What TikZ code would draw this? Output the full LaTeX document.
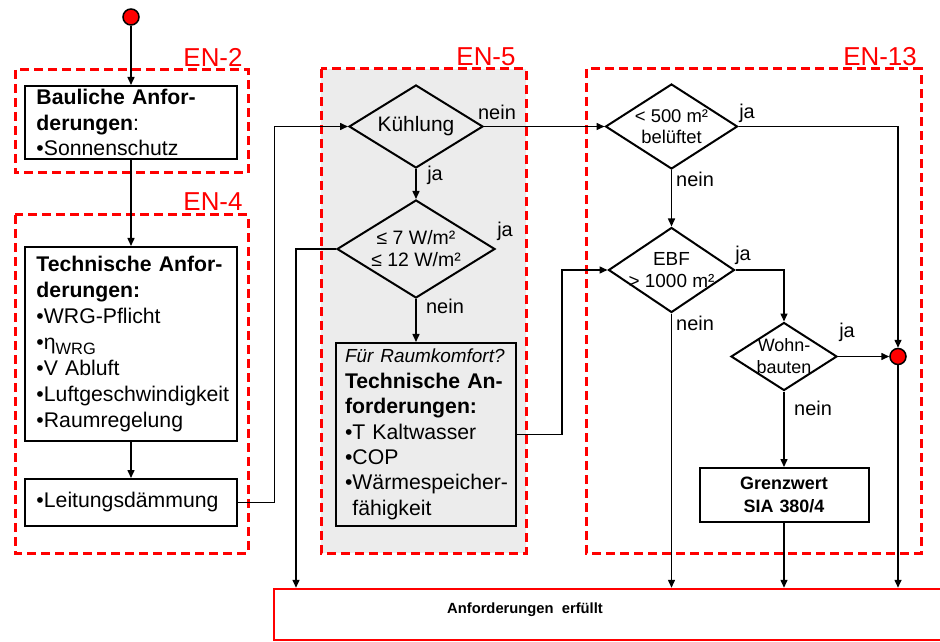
\documentclass[tikz,border=0pt]{standalone}
\usepackage{fontspec}
\setmainfont{Liberation Sans}
\usetikzlibrary{arrows.meta,shapes.geometric}
\definecolor{enred}{RGB}{255,0,0}
\definecolor{bggray}{RGB}{236,236,236}
\hyphenpenalty=10000
\exhyphenpenalty=10000
\begin{document}
\begin{tikzpicture}[x=1bp,y=-1bp,
  conn/.style={line width=1.5bp, draw=black},
  arr/.style={conn,-{Triangle[length=8bp,width=7bp]}},
  enbox/.style={draw=enred, line width=3bp, dash pattern=on 9bp off 5bp},
  enlab/.style={text=enred, font=\fontsize{26}{26}\selectfont, inner sep=0},
  box/.style={draw, line width=2bp, align=left, inner xsep=11bp, inner ysep=0,
    font=\fontsize{21.3}{26}\selectfont},
  dia/.style={diamond, draw, line width=2bp, inner sep=0, aspect=1.6},
  dtext/.style={align=center, inner sep=0, font=\fontsize{19}{21.5}\selectfont},
  yn/.style={inner sep=0, font=\fontsize{20}{20}\selectfont},
  dotc/.style={circle, draw=black, line width=1.5bp, fill=enred, minimum size=16bp, inner sep=0},
]
\useasboundingbox (0,0) rectangle (940,642);
\clip (0,0) rectangle (940,642);
\fill[white] (0,0) rectangle (940,642);

% group frames
\fill[bggray] (321,69) rectangle (526,553);
\draw[enbox] (15,70) rectangle (248,173);
\draw[enbox] (15,215) rectangle (248,553);
\draw[enbox] (321,69) rectangle (526,553);
\draw[enbox] (586,69) rectangle (921,553);
\node[enlab] (en2) at (213,57) {EN-2};
\node[enlab] (en4) at (213,202) {EN-4};
\node[enlab] (en5) at (486,57) {EN-5};
\node[enlab] (en13) at (880,57) {EN-13};

% nodes
\node[dotc] (start) at (131,17) {};
\node[box, text width=189bp, minimum height=73bp] (bau) at (131,122.5)
  {\textbf{Bauliche Anfor-}\\\textbf{derungen}:\\•Sonnenschutz};
\node[box, text width=189bp, minimum height=194bp] (tech) at (131,344)
  {\textbf{Technische Anfor-}\\\textbf{derungen:}\\•WRG-Pflicht\\•η\raisebox{-5bp}{\fontsize{16.5}{16.5}\selectfont WRG}\\•V Abluft\\•Luftgeschwindigkeit\\•Raumregelung};
\node[box, text width=189bp, minimum height=47bp] (leit) at (131,502.5) {•Leitungsdämmung};

\node[dia, minimum width=134bp, minimum height=83bp] (kuehl) at (416,126.5) {};
\node[dtext, font=\fontsize{21}{21}\selectfont] (kuehl-t) at (kuehl) {Kühlung};
\node[dia, minimum width=158bp, minimum height=98bp] (w7) at (416,249) {};
\node[dtext, font=\fontsize{19.5}{22}\selectfont] (w7-t) at (w7) {≤ 7 W/m²\\≤ 12 W/m²};
\node[box, fill=bggray, text width=162bp, inner xsep=9bp, minimum height=183bp,
  font=\fontsize{21.3}{25.5}\selectfont] (fuer) at (426,434.5)
  {{\fontsize{19}{25.5}\selectfont\itshape Für Raumkomfort?}\\\textbf{Technische An-}\\\textbf{forderungen:}\\•T Kaltwasser\\•COP\\•Wärmespeicher-\\\hphantom{•}fähigkeit};

\node[dia, minimum width=132bp, minimum height=85bp] (lt500) at (671.5,126.5) {};
\node[dtext, font=\fontsize{18.5}{21.5}\selectfont] (lt500-t) at (lt500) {< 500 m²\\belüftet};
\node[dia, minimum width=126bp, minimum height=85bp] (ebf) at (671.5,270) {};
\node[dtext] (ebf-t) at (ebf) {EBF\\> 1000 m²};
\node[dia, minimum width=106bp, minimum height=68bp] (wohn) at (784,356.5) {};
\node[dtext, font=\fontsize{18}{22}\selectfont] (wohn-t) at (wohn) {Wohn-\\bauten};
\node[dotc] (merge) at (898,356.5) {};
\node[box, align=center, inner xsep=0, text width=169bp, minimum height=54bp,
  font=\fontsize{18}{23}\selectfont\bfseries] (grenz) at (784,495) {Grenzwert\\SIA 380/4};

\node[draw=enred, line width=2.5bp, minimum width=760bp, minimum height=51bp, inner sep=0] (ziel) at (654,614.5) {};
\node[inner sep=0, font=\fontsize{14.8}{14.8}\selectfont\bfseries] (ziel-t) at (525,610) {Anforderungen~~erfüllt};

% labels
\node[yn] (l1) at (497,112) {nein};
\node[yn] (l2) at (435,175) {ja};
\node[yn] (l3) at (505,231) {ja};
\node[yn] (l4) at (445,306) {nein};
\node[yn] (l5) at (747,113) {ja};
\node[yn] (l6) at (695,179) {nein};
\node[yn] (l7) at (743,255) {ja};
\node[yn] (l8) at (695,323) {nein};
\node[yn] (l9) at (847,332) {ja};
\node[yn] (l10) at (813,408) {nein};

% connectors
\draw[arr] (start.south) -- (bau.north);
\draw[arr] (bau.south) -- (tech.north);
\draw[arr] (tech.south) -- (leit.north);
\draw[arr] (leit.east) -- ++(37,0) |- (kuehl.west);
\draw[arr] (kuehl.east) -- (lt500.west);
\draw[arr] (kuehl.south) -- (w7.north);
\draw[arr] (w7.west) -- ++(-40,0) coordinate (wl) -- (wl |- ziel.north);
\draw[arr] (w7.south) -- (w7.south |- fuer.north);
\draw[arr] (fuer.east) -- ++(45,0) |- (ebf.west);
\draw[arr] (lt500.east) -| (merge.north);
\draw[arr] (lt500.south) -- (ebf.north);
\draw[arr] (ebf.east) -| (wohn.north);
\draw[arr] (ebf.south) -- (ebf.south |- ziel.north);
\draw[arr] (wohn.east) -- (merge.west);
\draw[arr] (wohn.south) -- (grenz.north);
\draw[arr] (grenz.south) -- (grenz.south |- ziel.north);
\draw[arr] (merge.south) -- (merge.south |- ziel.north);
\end{tikzpicture}
\end{document}
